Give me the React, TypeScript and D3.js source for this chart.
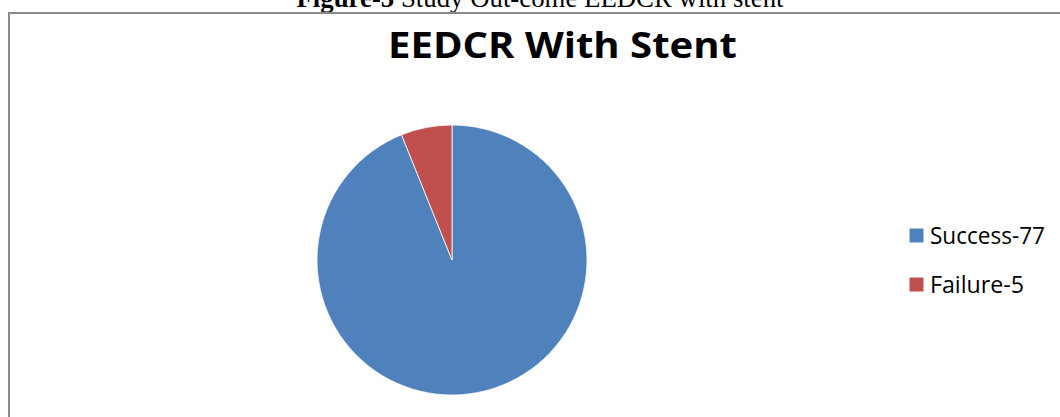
import React from "react";
import * as d3 from "d3";

const categories = ["Success", "Failure"];
const values = [77, 5];
const legendLabels = ["Success-77", "Failure-5"];
const colors = ["#4F81BD", "#C0504D"];
const chartTitle = "EEDCR With Stent";

const W = 1060;
const H = 417;

export default function App() {
  const cx = 452;
  const cy = 260;
  const r = 135;
  const pie = d3
    .pie<number>()
    .sort(null)
    .value((d) => d)
    .startAngle(0)
    .endAngle(2 * Math.PI);
  const arcs = pie(values);
  const arc = d3.arc<d3.PieArcDatum<number>>().innerRadius(0).outerRadius(r);
  const color = d3.scaleOrdinal<string, string>().domain(categories).range(colors);
  const legendY = d3.scalePoint<string>().domain(categories).range([228.5, 277.5]);
  const legendW = [115, 94];

  return (
    <svg
      width={W}
      height={H}
      style={{ position: "absolute", left: 0, top: 0, background: "#fff" }}
    >
      <text
        x={540}
        y={7}
        textAnchor="middle"
        fontFamily="'Liberation Serif', 'Times New Roman', serif"
        fontSize={26.8}
        fill="#000"
      >
        <tspan fontWeight="bold">Figure-5</tspan>
        <tspan> Study  Out-come EEDCR with stent</tspan>
      </text>
      <rect x={9} y={13} width={1200} height={600} fill="none" stroke="#8a8a8a" strokeWidth={2} />
      <text
        x={562.5}
        y={58.3}
        textAnchor="middle"
        fontFamily="'Open Sans', sans-serif"
        fontWeight="bold"
        fontSize={35}
        textLength={349}
        lengthAdjust="spacingAndGlyphs"
        fill="#000"
      >
        {chartTitle}
      </text>
      <g transform={`translate(${cx},${cy})`}>
        {arcs.map((a, i) => (
          <path
            key={categories[i]}
            d={arc(a) || ""}
            fill={color(categories[i])}
            stroke="#ffffff"
            strokeWidth={0.8}
          />
        ))}
      </g>
      {categories.map((c, i) => (
        <g key={c}>
          <rect x={909.5} y={legendY(c)!} width={14} height={14} fill={color(c)} />
          <text
            x={930}
            y={legendY(c)! + 15.5}
            fontFamily="'Open Sans', sans-serif"
            fontSize={23.5}
            textLength={legendW[i]}
            lengthAdjust="spacingAndGlyphs"
            fill="#000"
          >
            {legendLabels[i]}
          </text>
        </g>
      ))}
    </svg>
  );
}
